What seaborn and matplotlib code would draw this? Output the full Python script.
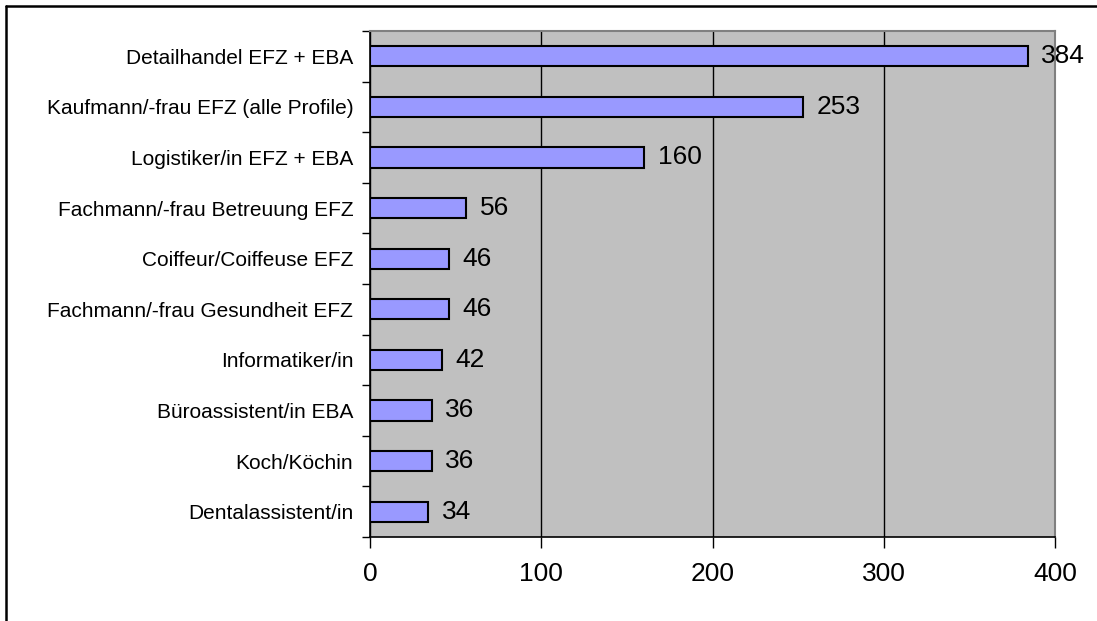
import matplotlib
matplotlib.use('Agg')
import matplotlib.pyplot as plt
import seaborn as sns
import pandas as pd
from matplotlib.lines import Line2D
from matplotlib.ticker import FixedLocator

sns.set_style('white')
plt.rcParams['font.family'] = ['Liberation Sans', 'DejaVu Sans']
plt.rcParams['text.color'] = 'black'
plt.rcParams['xtick.color'] = 'black'
plt.rcParams['ytick.color'] = 'black'

# Daten
berufe = ['Detailhandel EFZ + EBA', 'Kaufmann/-frau EFZ (alle Profile)',
          'Logistiker/in EFZ + EBA', 'Fachmann/-frau Betreuung EFZ',
          'Coiffeur/Coiffeuse EFZ', 'Fachmann/-frau Gesundheit EFZ',
          'Informatiker/in', 'Büroassistent/in EBA', 'Koch/Köchin',
          'Dentalassistent/in']
anzahl = [384, 253, 160, 56, 46, 46, 42, 36, 36, 34]
x_ticks = [0, 100, 200, 300, 400]

df = pd.DataFrame({'beruf': berufe, 'anzahl': anzahl})

fig = plt.figure(figsize=(10.97, 6.21), dpi=100)
ax = fig.add_axes([370 / 1097, 1 - 537 / 621, 685 / 1097, 506 / 621])
ax.set_facecolor('#C0C0C0')

sns.barplot(data=df, x='anzahl', y='beruf', order=berufe, orient='h',
            color='#9999FF', edgecolor='black', linewidth=1.5,
            width=0.4, saturation=1, ax=ax)

ax.set_xlim(0, 400)
ax.set_ylim(len(berufe) - 0.5, -0.5)
ax.set_xticks(x_ticks)
ax.set_xlabel('')
ax.set_ylabel('')
ax.xaxis.grid(True, color='black', linewidth=1)
ax.set_axisbelow(True)

# Werte neben den Balken
for i, v in enumerate(anzahl):
    ax.text(v + 8, i, str(v), va='center', ha='left', fontsize=19,
            color='black', clip_on=False)

# Achsen
for s in ['top', 'right']:
    ax.spines[s].set_color('#808080')
    ax.spines[s].set_linewidth(1.5)
for s in ['left', 'bottom']:
    ax.spines[s].set_color('black')
    ax.spines[s].set_linewidth(1.2)

ax.tick_params(axis='y', which='major', length=0, pad=12, labelsize=15,
               labelcolor='black')
ax.yaxis.set_minor_locator(FixedLocator([k - 0.5 for k in range(len(berufe) + 1)]))
ax.tick_params(axis='y', which='minor', length=6, width=1, color='black',
               direction='out', left=True)
ax.tick_params(axis='x', length=8, width=1, color='black', direction='out',
               bottom=True, pad=10, labelsize=19, labelcolor='black')

# Rahmen
fig.add_artist(Line2D([6 / 1097, 6 / 1097], [0, 1 - 6 / 621], color='black',
                      linewidth=1.8, transform=fig.transFigure))
fig.add_artist(Line2D([6 / 1097, 1], [1 - 6 / 621, 1 - 6 / 621], color='black',
                      linewidth=1.8, transform=fig.transFigure))

fig.savefig('out.png', dpi=100)
